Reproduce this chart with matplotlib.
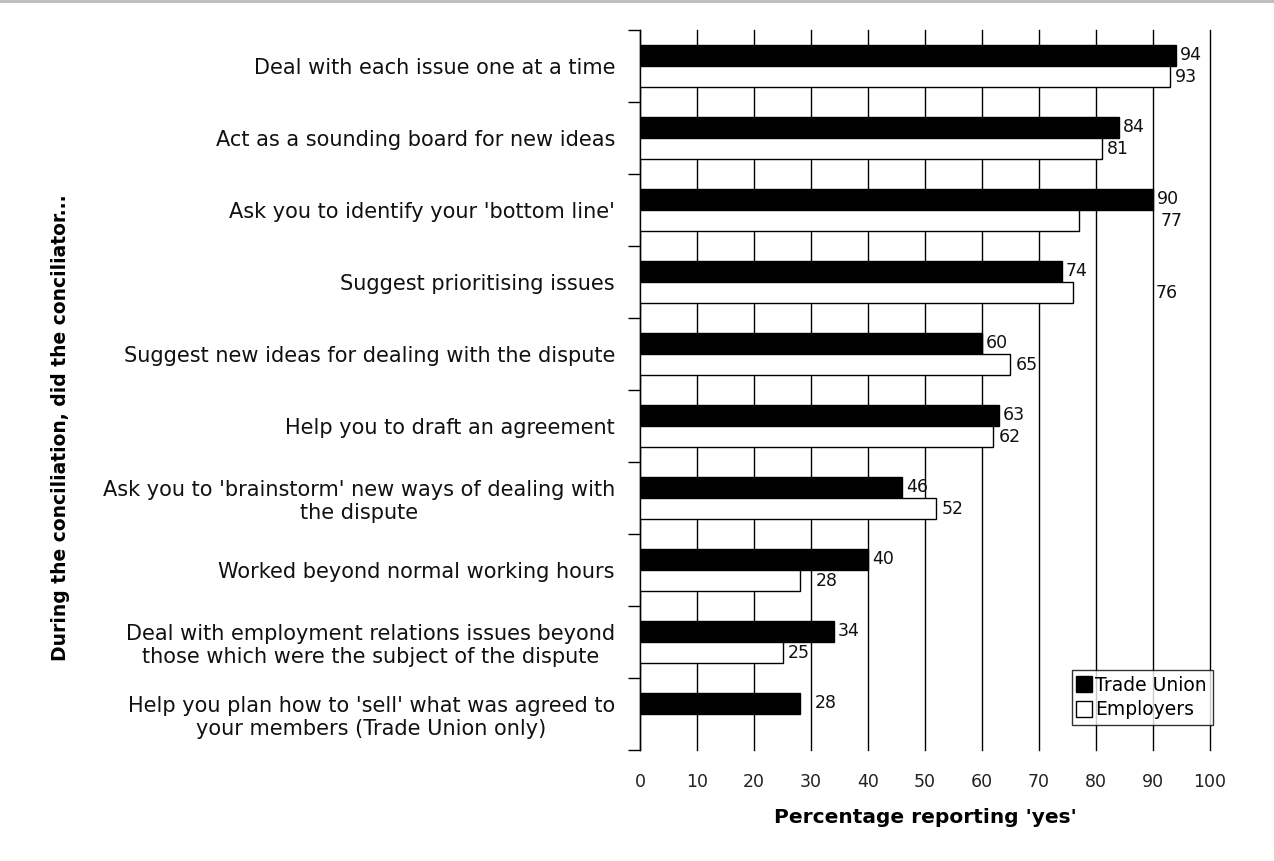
import matplotlib
matplotlib.use("Agg")
import matplotlib.pyplot as plt
from matplotlib.lines import Line2D
import numpy as np

categories = [
    "Deal with each issue one at a time",
    "Act as a sounding board for new ideas",
    "Ask you to identify your 'bottom line'",
    "Suggest prioritising issues",
    "Suggest new ideas for dealing with the dispute",
    "Help you to draft an agreement",
    "Ask you to 'brainstorm' new ways of dealing with\nthe dispute",
    "Worked beyond normal working hours",
    "Deal with employment relations issues beyond\nthose which were the subject of the dispute",
    "Help you plan how to 'sell' what was agreed to\nyour members (Trade Union only)",
]
trade_union = [94, 84, 90, 74, 60, 63, 46, 40, 34, 28]
employers = [93, 81, 77, 76, 65, 62, 52, 28, 25, None]
x_ticks = [0, 10, 20, 30, 40, 50, 60, 70, 80, 90, 100]

# extra horizontal shift (data units) for a few value labels
emp_label_shift = {2: 13.5, 3: 13.5, 7: 2.0}
tu_label_shift = {9: 2.0}

fig = plt.figure(figsize=(12.74, 8.61), dpi=100)
ax = fig.add_axes([640 / 1274, 1 - 750 / 861, 570 / 1274, 720 / 861])

n = len(categories)
y = np.arange(n)
h = 0.29
off = 0.146

for i in range(n):
    ax.barh(i - off, trade_union[i], height=h, color="black",
            edgecolor="black", linewidth=1, zorder=3)
    tx = trade_union[i] + 0.7 + tu_label_shift.get(i, 0)
    ax.text(tx, i - off, str(trade_union[i]), va="center", ha="left",
            fontsize=12.5, color="#111111", zorder=4)
    if employers[i] is not None:
        ax.barh(i + off, employers[i], height=h, color="white",
                edgecolor="black", linewidth=1, zorder=3)
        ex = employers[i] + 0.9 + emp_label_shift.get(i, 0)
        ax.text(ex, i + off, str(employers[i]), va="center",
                ha="left", fontsize=12.5, color="#111111", zorder=4)

ax.set_xlim(0, 100)
ax.set_ylim(n - 0.5, -0.5)

ax.set_xticks(x_ticks)
ax.set_xticklabels([str(t) for t in x_ticks], fontsize=12.5, color="#222222")
ax.tick_params(axis="x", length=0, pad=16.5)
ax.xaxis.grid(True, color="black", linewidth=1)
for gl in ax.get_xgridlines():
    gl.set_clip_on(False)
ax.set_axisbelow(True)

ax.set_yticks(y)
ax.set_yticklabels(categories, fontsize=15, color="#111111",
                   multialignment="center")
ax.set_yticks(np.arange(-0.5, n, 1.0), minor=True)
ax.tick_params(axis="y", which="major", length=0, pad=18)
ax.tick_params(axis="y", which="minor", length=9, width=1, color="black",
               direction="out")

for s in ("top", "right", "bottom"):
    ax.spines[s].set_visible(False)
ax.spines["left"].set_color("black")
ax.spines["left"].set_linewidth(1)

ax.set_xlabel("Percentage reporting 'yes'", fontsize=14.5,
              fontweight="bold", labelpad=12)
fig.text(60 / 1274, 1 - 428 / 861, "During the conciliation, did the conciliator...",
         rotation=90, ha="center", va="center", fontsize=13.5,
         fontweight="bold")

handles = [
    Line2D([0], [0], marker="s", linestyle="none", markersize=11,
           markerfacecolor="black", markeredgecolor="black"),
    Line2D([0], [0], marker="s", linestyle="none", markersize=11,
           markerfacecolor="white", markeredgecolor="black"),
]
leg = fig.legend(handles, ["Trade Union", "Employers"],
                 loc="upper left",
                 bbox_to_anchor=(1072 / 1274, 1 - 670 / 861),
                 fontsize=13.5, frameon=True, fancybox=False,
                 handlelength=0.7, handletextpad=0.25, borderpad=0.3,
                 labelspacing=0.3, borderaxespad=0)
leg.get_frame().set_edgecolor("black")
leg.get_frame().set_linewidth(1)

# thin border line across the top of the image
fig.add_artist(Line2D([0, 1], [0.999, 0.999], color="#bbbbbb",
                      linewidth=2, transform=fig.transFigure))

fig.savefig("out.png", dpi=100, facecolor="white")
